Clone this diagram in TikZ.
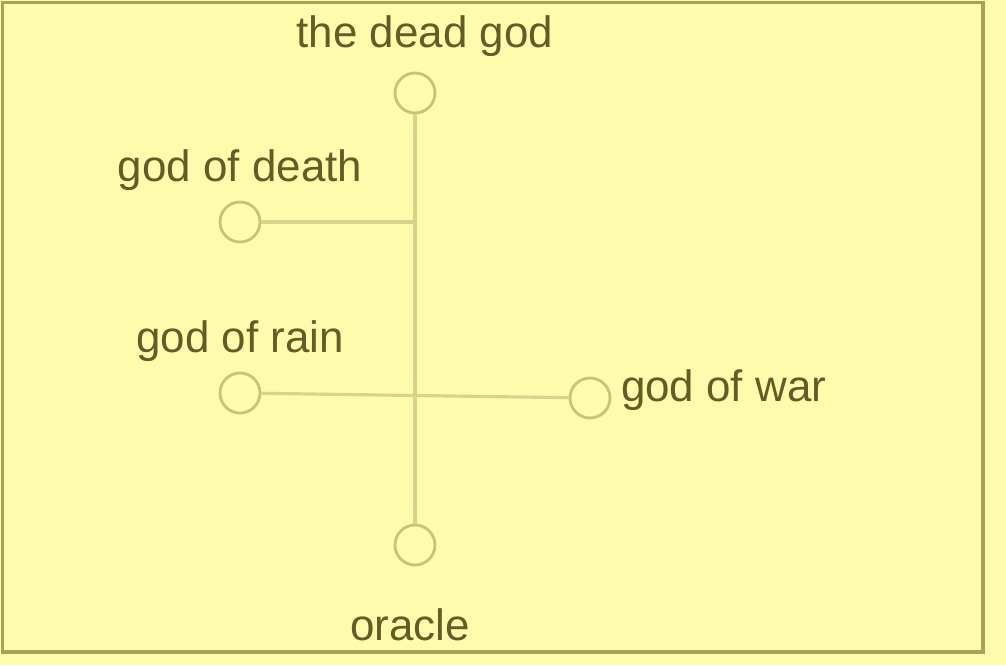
\documentclass[tikz,border=0pt]{standalone}
\usepackage{fontspec}
\setmainfont{Liberation Sans}
\usetikzlibrary{positioning}

\definecolor{bgyellow}{RGB}{254,252,172}
\definecolor{frameolive}{RGB}{168,162,88}
\definecolor{ringolive}{RGB}{200,196,118}
\definecolor{lineolive}{RGB}{214,211,140}
\definecolor{textolive}{RGB}{98,92,38}

\begin{document}
\begin{tikzpicture}[node distance=0.2cm,
    godnode/.style={draw=ringolive, line width=1.6pt, circle, minimum size=0.8cm, inner sep=0pt},
    godlabel/.style={text=textolive, font=\fontsize{25}{30}\selectfont, inner sep=1pt},
    link/.style={draw=lineolive, line width=1.8pt}]
    % page and frame
    \fill[bgyellow] (0,0) rectangle (20.12,13.3);
    \useasboundingbox (0,0) rectangle (20.12,13.3);
    \draw[frameolive, line width=2pt] (0.05,0.26) rectangle (19.66,13.25);

    \node[godnode] (deadgod) at (8.3,11.44) {};
    \node[godnode] (death) at (4.8,8.86) {};
    \node[godnode] (rain) at (4.8,5.44) {};
    \node[godnode] (war) at (11.8,5.34) {};
    \node[godnode] (oracle) at (8.3,2.4) {};

    \node[godlabel, above=0.25cm of deadgod, xshift=0.2cm] (deadgodtext) {the dead god};
    \node[godlabel, above=0.15cm of death] (deathtext) {god of death};
    \node[godlabel, above=0.15cm of rain] (raintext) {god of rain};
    \node[godlabel, right=0.15cm of war, yshift=0.15cm] (wartext) {god of war};
    \node[godlabel, below=0.8cm of oracle, xshift=-0.1cm] (oracletext) {oracle};

    \draw[link] (deadgod) -- (oracle);
    \draw[link] (death) -- (death -| deadgod);
    \draw[link] (rain) -- (war);
\end{tikzpicture}
\end{document}
